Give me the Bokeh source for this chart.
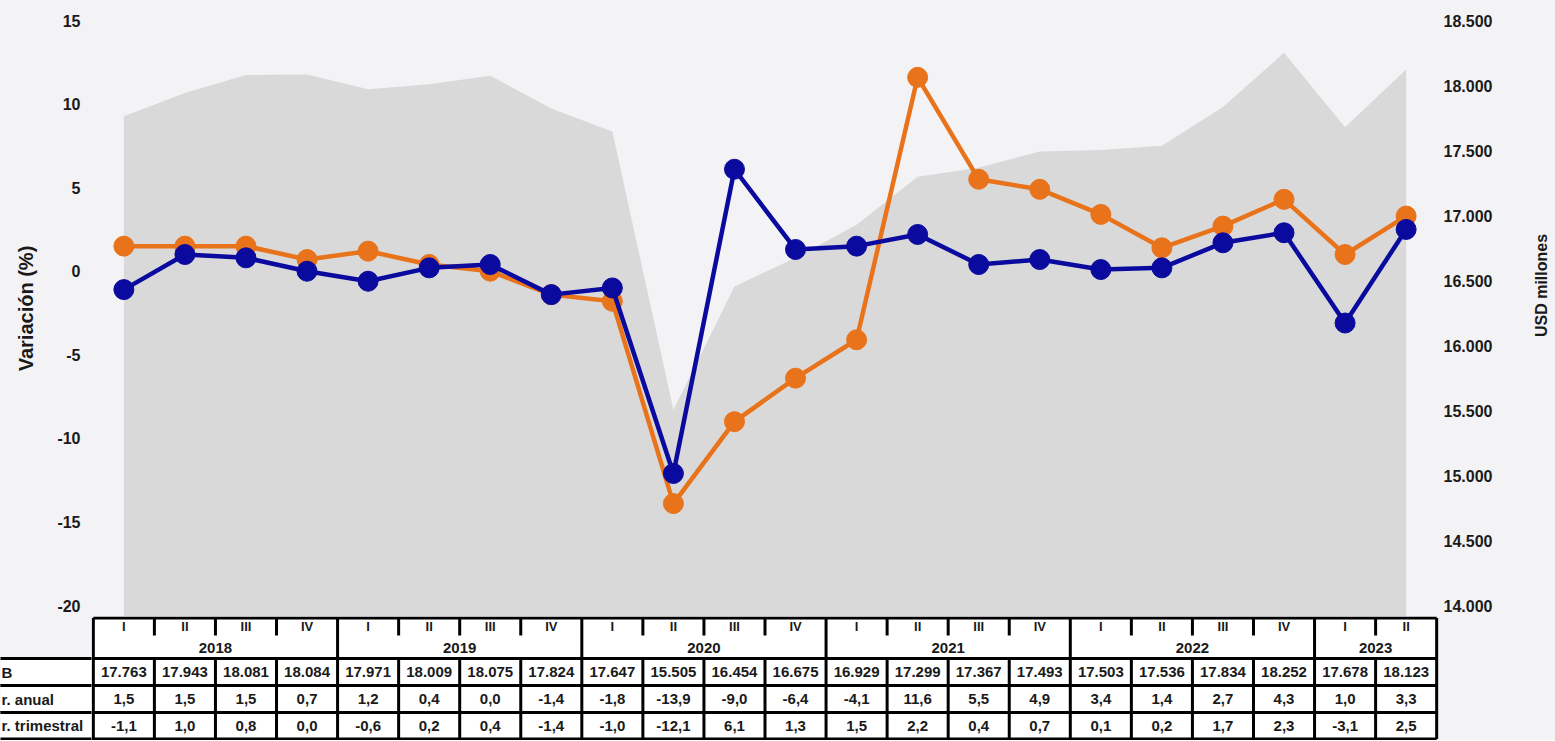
import math
from bokeh.plotting import figure
from bokeh.layouts import column, row
from bokeh.models import Range1d, LinearAxis, FixedTicker
from bokeh.core.properties import value
from bokeh.embed import file_html
from bokeh.resources import INLINE

# ---------------- data ----------------
quarters = ["I", "II", "III", "IV"] * 5 + ["I", "II"]
years = ["2018", "2019", "2020", "2021", "2022", "2023"]
year_counts = [4, 4, 4, 4, 4, 2]
pib = [17763, 17943, 18081, 18084, 17971, 18009, 18075, 17824, 17647, 15505, 16454,
       16675, 16929, 17299, 17367, 17493, 17503, 17536, 17834, 18252, 17678, 18123]
var_anual = [1.5, 1.5, 1.5, 0.7, 1.2, 0.4, 0.0, -1.4, -1.8, -13.9, -9.0,
             -6.4, -4.1, 11.6, 5.5, 4.9, 3.4, 1.4, 2.7, 4.3, 1.0, 3.3]
var_trim = [-1.1, 1.0, 0.8, 0.0, -0.6, 0.2, 0.4, -1.4, -1.0, -12.1, 6.1,
            1.3, 1.5, 2.2, 0.4, 0.7, 0.1, 0.2, 1.7, 2.3, -3.1, 2.5]
row_labels = ["B", "r. anual", "r. trimestral"]
left_ticks = [-20, -15, -10, -5, 0, 5, 10, 15]
right_ticks = [14000, 14500, 15000, 15500, 16000, 16500, 17000, 17500, 18000, 18500]
left_title = "Variación (%)"
right_title = "USD millones"

# ---------------- styles ----------------
ORANGE = "#E8731A"
BLUE = "#0A0A9E"
AREA = "#d9d9d9"
BG = "#f3f3f6"
TXT = "#1a1a1a"
FONT = "Liberation Sans"

# ---------------- geometry (page pixels) ----------------
W = 1555
H_MAIN, H_TAB = 616, 124
FRAME_L, FRAME_R = 91, 1438       # plot frame edges
W_RT = 33                         # strip holding the right title
W_P = W - W_RT
FL, FR = FRAME_L, W_P - FRAME_R
n = len(pib)
x_lo, x_hi = -0.53, n - 0.5 + 0.03
ppx = (FRAME_R - FRAME_L) / (x_hi - x_lo)
TOP_PX, BOT_PX = 20, 605          # pixel rows of the top and bottom left ticks
ppy = (BOT_PX - TOP_PX) / (left_ticks[-1] - left_ticks[0])
y_hi = left_ticks[-1] + TOP_PX / ppy
y_lo = left_ticks[0] - (H_MAIN - BOT_PX) / ppy
k = (right_ticks[-1] - right_ticks[0]) / (left_ticks[-1] - left_ticks[0])
usd_lo = right_ticks[0] + (y_lo - left_ticks[0]) * k
usd_hi = right_ticks[-1] + (y_hi - left_ticks[-1]) * k


def fmt_thousands(v):
    return f"{v:,}".replace(",", ".")


def fmt_dec(v):
    return f"{v:.1f}".replace(".", ",")


def style_axis(ax, standoff):
    ax.axis_line_color = None
    ax.major_tick_line_color = None
    ax.minor_tick_line_color = None
    ax.major_tick_out = 0
    ax.major_tick_in = 0
    ax.major_label_standoff = standoff
    ax.major_label_text_font = FONT
    ax.major_label_text_font_style = "bold"
    ax.major_label_text_font_size = "16px"
    ax.major_label_text_color = TXT
    ax.axis_label_text_font = FONT
    ax.axis_label_text_color = TXT


def blank(width, height, xr, yr):
    f = figure(width=width, height=height, x_range=xr, y_range=yr,
               output_backend="svg", toolbar_location=None,
               min_border_left=0, min_border_right=0, min_border_top=0, min_border_bottom=0,
               background_fill_color=BG, border_fill_color=BG, outline_line_color=None)
    f.xaxis.visible = False
    f.yaxis.visible = False
    f.xgrid.visible = False
    f.ygrid.visible = False
    return f


# ---------------- main chart ----------------
p = figure(width=W_P, height=H_MAIN, x_range=Range1d(x_lo, x_hi), y_range=Range1d(y_lo, y_hi),
           output_backend="svg", toolbar_location=None,
           min_border_left=FL, min_border_right=FR, min_border_top=0, min_border_bottom=0,
           background_fill_color=BG, border_fill_color=BG, outline_line_color=None)
p.xaxis.visible = False
p.xgrid.visible = False
p.ygrid.visible = False
p.extra_y_ranges = {"usd": Range1d(usd_lo, usd_hi)}

ya = p.yaxis[0]
ya.ticker = FixedTicker(ticks=left_ticks)
ya.major_label_overrides = {t: str(t) for t in left_ticks}
style_axis(ya, 11)
ya.axis_label = left_title
ya.axis_label_text_font_size = "20px"
ya.axis_label_text_font_style = "bold"
ya.axis_label_standoff = 17

ra = LinearAxis(y_range_name="usd", ticker=FixedTicker(ticks=right_ticks),
                major_label_overrides={t: fmt_thousands(t) for t in right_ticks})
style_axis(ra, 5)
p.add_layout(ra, "right")

idx = list(range(n))

p.varea(x=idx, y1=[usd_lo] * n, y2=pib, y_range_name="usd", fill_color=AREA)
p.line(idx, var_anual, line_color=ORANGE, line_width=4.5, line_join="round")
p.scatter(idx, var_anual, size=20, fill_color=ORANGE, line_color=ORANGE)
p.line(idx, var_trim, line_color=BLUE, line_width=4.5, line_join="round")
p.scatter(idx, var_trim, size=20, fill_color=BLUE, line_color=BLUE)

# right title strip
rt = blank(W_RT, H_MAIN, Range1d(0, W_RT), Range1d(-H_MAIN, 0))
rt.text(x=[19], y=[-285], text=[right_title], angle=math.pi / 2, text_font=value(FONT),
        text_font_style="bold", text_font_size="16px", text_align="center",
        text_baseline="middle", text_color=TXT)

# ---------------- table ----------------
def ty(page_y):
    return -(page_y - H_MAIN)


W_TAB = W - FRAME_L
tf = blank(W_TAB, H_TAB, Range1d(x_lo, x_lo + W_TAB / ppx), Range1d(-H_TAB, 0))

t0 = ty(617.5)
tq = ty(635)
t2 = ty(658)
t3 = ty(685)
t4 = ty(712)
t5 = ty(738.5)
row_tops = [t2, t3, t4]
row_bots = [t3, t4, t5]
row_mid = [(a + b) / 2 for a, b in zip(row_tops, row_bots)]

tf.quad(left=[-0.5], right=[n - 0.5], top=[t0], bottom=[t5], fill_color="white", line_color=None)

year_bounds = [-0.5]
acc = 0
for c in year_counts:
    acc += c
    year_bounds.append(acc - 0.5)

sx0, sy0, sx1, sy1 = [], [], [], []
# horizontal rules: the top one spans the table, the row rules continue to the left edge
for j, yy in enumerate([t0, t2, t3, t4, t5]):
    sx0.append(-0.5 if j == 0 else x_lo - 0.1)
    sx1.append(n - 0.5)
    sy0.append(yy)
    sy1.append(yy)
for b in range(n + 1):
    xb = b - 0.5
    if xb in year_bounds:
        sx0.append(xb); sx1.append(xb); sy0.append(t0); sy1.append(t5)
    else:
        sx0.append(xb); sx1.append(xb); sy0.append(t2); sy1.append(t5)
        sx0.append(xb); sx1.append(xb); sy0.append(t0); sy1.append(tq)
tf.segment(x0=sx0, y0=sy0, x1=sx1, y1=sy1, line_color="black", line_width=3)

text_kw = dict(text_font=value(FONT), text_font_style="bold", text_align="center",
               text_baseline="middle", text_color=TXT)
tf.text(x=idx, y=[ty(626)] * n, text=quarters, text_font_size="13px", **text_kw)
year_centers = [(year_bounds[i] + year_bounds[i + 1]) / 2 for i in range(len(years))]
tf.text(x=year_centers, y=[ty(647)] * len(years), text=years, text_font_size="15px", **text_kw)

rows = [[fmt_thousands(v) for v in pib], [fmt_dec(v) for v in var_anual], [fmt_dec(v) for v in var_trim]]
for r, vals in enumerate(rows):
    tf.text(x=idx, y=[row_mid[r]] * n, text=vals, text_font_size="15px", **text_kw)

# left label column of the table
lf = blank(FRAME_L, H_TAB, Range1d(0, FRAME_L), Range1d(-H_TAB, 0))
lf.quad(left=[-5] * 3, right=[FRAME_L + 5] * 3, top=row_tops, bottom=row_bots,
        fill_color="white", line_color="black", line_width=3)
lf.text(x=[1] * 3, y=row_mid, text=row_labels, text_font=value(FONT), text_font_style="bold",
        text_font_size="15px", text_align="left", text_baseline="middle", text_color=TXT)

bg_style = {"background-color": BG}
layout = column(row(p, rt, spacing=0, styles=bg_style), row(lf, tf, spacing=0, styles=bg_style),
                spacing=0, styles=bg_style)
open("out.html", "w").write(file_html(layout, INLINE))
